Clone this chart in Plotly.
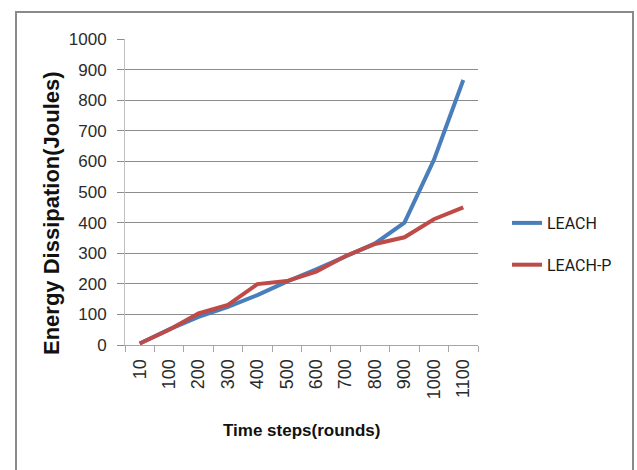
import plotly.graph_objects as go

categories = ["10", "100", "200", "300", "400", "500", "600", "700", "800", "900", "1000", "1100"]
leach = [5, 51, 92, 125, 163, 207, 247, 290, 332, 400, 605, 866]
leach_p = [5, 50, 103, 131, 199, 209, 240, 291, 330, 352, 411, 450]
y_ticks = list(range(0, 1001, 100))

FONT = "Liberation Sans"

fig = go.Figure()
fig.add_trace(go.Scatter(x=categories, y=leach, mode="lines", name="LEACH",
                         legendgroup="a",
                         line=dict(color="#4A7EBB", width=4)))
fig.add_trace(go.Scatter(x=categories, y=leach_p, mode="lines", name="LEACH-P",
                         legendgroup="b",
                         line=dict(color="#BE4B48", width=4)))

L, R, T, B = 125, 637 - 478, 39, 470 - 345
pw, ph = 637 - L - R, 470 - T - B

def px(x):
    return (x - L) / pw

def py(y):
    return (470 - B - y) / ph

fig.update_layout(
    width=637, height=470,
    margin=dict(l=L, r=R, t=T, b=B, pad=0, autoexpand=False),
    paper_bgcolor="white", plot_bgcolor="white",
    showlegend=True,
    legend=dict(x=px(507), y=py(206), xanchor="left", yanchor="top",
                font=dict(family="Roboto", size=16, color="#1a1a1a"),
                tracegroupgap=18, itemwidth=30, bgcolor="rgba(0,0,0,0)"),
    xaxis=dict(type="category", tickson="boundaries", ticks="outside", ticklen=6,
               range=[-0.5, len(categories) - 0.5],
               tickcolor="#a6a6a6", showline=True, linecolor="#a6a6a6", linewidth=1,
               showgrid=False, tickangle=-90,
               tickfont=dict(family=FONT, size=18, color="#2b2b2b"),
               ticklabelstandoff=6, zeroline=False, automargin=False),
    yaxis=dict(range=[0, 1000], tickvals=y_ticks, ticks="outside", ticklen=7,
               tickcolor="#8c8c8c", showline=True, linecolor="#bfbfbf", linewidth=1,
               showgrid=True, gridcolor="#8c8c8c", gridwidth=1,
               tickfont=dict(family=FONT, size=17, color="#2b2b2b"),
               ticklabelstandoff=7, zeroline=False, automargin=False),
    shapes=[dict(type="rect", xref="paper", yref="paper",
                 x0=px(16), x1=px(633), y0=py(480), y1=py(12),
                 line=dict(color="#8a8a8a", width=2), fillcolor="rgba(0,0,0,0)",
                 layer="below")],
    annotations=[
        dict(text="<b>Time steps(rounds)</b>", xref="paper", yref="paper",
             x=px(301), y=py(431), xanchor="center", yanchor="middle",
             showarrow=False, font=dict(family=FONT, size=17, color="#111111")),
        dict(text="<b>Energy Dissipation(Joules)</b>", xref="paper", yref="paper",
             x=px(51), y=py(213), xanchor="center", yanchor="middle", textangle=-90,
             showarrow=False, font=dict(family=FONT, size=22, color="#111111")),
    ],
)

fig.write_html("out.html", config={"displayModeBar": False},
               post_script="document.body.style.margin='0';document.body.style.overflow='hidden';")
